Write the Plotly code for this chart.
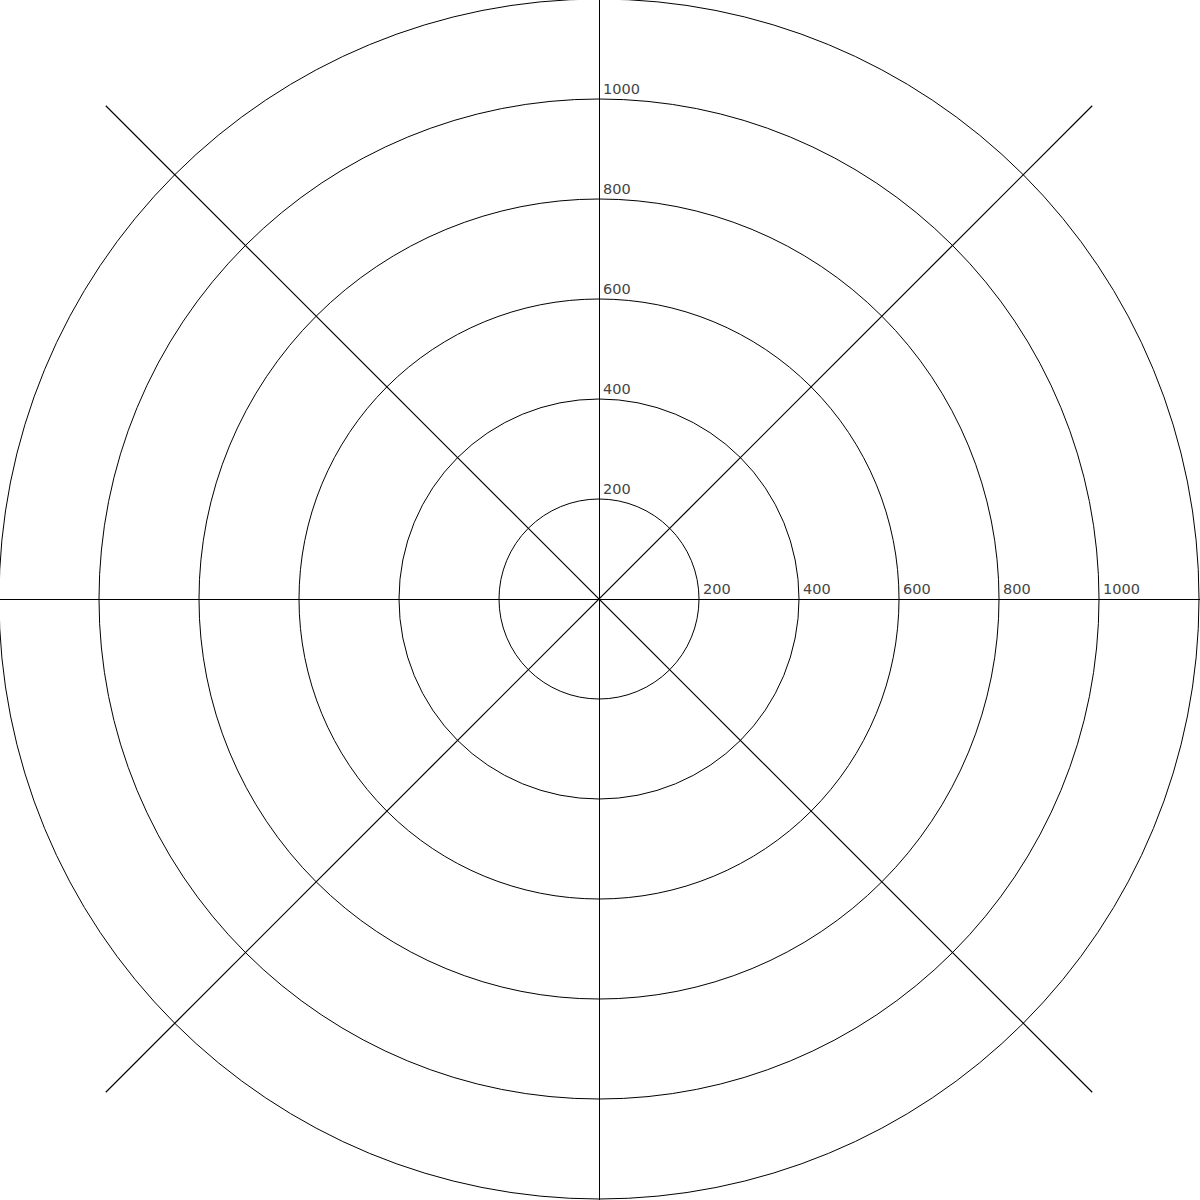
import numpy as np
import plotly.graph_objects as go

# Data
ring_values = [200, 400, 600, 800, 1000, 1200]
tick_values = [200, 400, 600, 800, 1000]
tick_labels = ["200", "400", "600", "800", "1000"]
spoke_angles_deg = [45, 135]
spoke_length = 1395
x_range = [-1198, 1202]
y_range = [-1202, 1198]

fig = go.Figure()

# diagonal spokes (through the centre)
for ang in spoke_angles_deg:
    a = np.deg2rad(ang)
    dx, dy = spoke_length * np.cos(a), spoke_length * np.sin(a)
    fig.add_trace(go.Scatter(x=[-dx, dx], y=[-dy, dy], mode="lines",
                             line=dict(color="#000000", width=1.2),
                             hoverinfo="skip", showlegend=False))

# concentric rings
for r in ring_values:
    fig.add_shape(type="circle", xref="x", yref="y", x0=-r, y0=-r, x1=r, y1=r,
                  line=dict(color="#000000", width=1), layer="above")

# tick labels on both axes
for v, t in zip(tick_values, tick_labels):
    fig.add_annotation(x=0, y=v, text=t, showarrow=False, xanchor="left",
                       yanchor="bottom", xshift=2, yshift=0,
                       font=dict(family="DejaVu Sans", size=14.5, color="#444444"))
    fig.add_annotation(x=v, y=0, text=t, showarrow=False, xanchor="left",
                       yanchor="bottom", xshift=2, yshift=0,
                       font=dict(family="DejaVu Sans", size=14.5, color="#444444"))

axis_common = dict(showgrid=False, zeroline=True,
                   zerolinecolor="#000000", zerolinewidth=1, showticklabels=False,
                   ticks="", showline=False, fixedrange=True)
fig.update_layout(
    width=1200, height=1200,
    margin=dict(l=0, r=0, t=0, b=0),
    paper_bgcolor="#ffffff", plot_bgcolor="#ffffff",
    xaxis=dict(axis_common, range=x_range),
    yaxis=dict(axis_common, range=y_range),
    showlegend=False,
)

fig.write_html("out.html", config={"displayModeBar": False},
               post_script="document.body.style.margin='0';")
